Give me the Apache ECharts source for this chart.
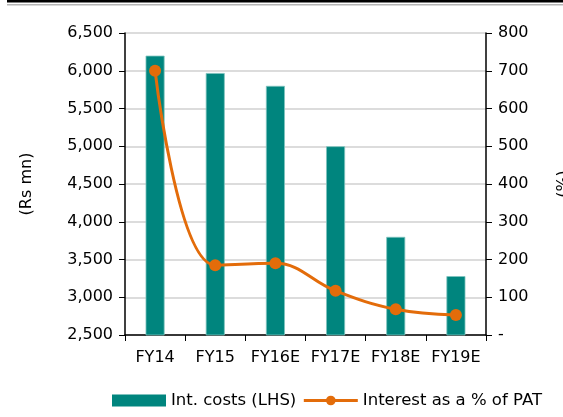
<!DOCTYPE html>
<html>
<head>
<meta charset="utf-8">
<script src="https://cdn.jsdelivr.net/npm/echarts@6/dist/echarts.min.js"></script>
<style>
    html, body { margin: 0; padding: 0; background: #fff; }
    #chart { width: 563px; height: 417px; }
</style>
</head>
<body>
<div id="chart"></div>
<script>
const years = ['FY14', 'FY15', 'FY16E', 'FY17E', 'FY18E', 'FY19E'];
const intCosts = [6200, 5970, 5800, 5000, 3800, 3280];
const interestPct = [700, 185, 190, 117, 68, 53];

const font = 'DejaVu Sans';
const chart = echarts.init(document.getElementById('chart'));
chart.setOption({
    animation: false,
    textStyle: { fontFamily: font, color: '#000' },
    graphic: [
        { type: 'rect', shape: { x: 7, y: 0, width: 556, height: 2.5 }, style: { fill: '#000' } },
        { type: 'rect', shape: { x: 7, y: 4, width: 556, height: 1.5 }, style: { fill: '#b5b5b5' } }
    ],
    grid: { left: 125, right: 77, top: 33, bottom: 82, containLabel: false, outerBoundsMode: 'none' },
    legend: {
        bottom: 3,
        left: 107,
        itemGap: 6,
        itemWidth: 54,
        itemHeight: 12,
        textStyle: { fontFamily: font, fontSize: 16.5, color: '#000' },
        data: [
            { name: 'Int. costs (LHS)', icon: 'rect', itemStyle: { borderWidth: 0 } },
            { name: 'Interest as a % of PAT', lineStyle: { width: 3 } }
        ]
    },
    xAxis: {
        type: 'category',
        data: years,
        axisLine: { lineStyle: { color: '#000', width: 1.5 } },
        axisTick: { show: true, length: 6, lineStyle: { color: '#000' } },
        axisLabel: { fontFamily: font, fontSize: 16, color: '#000', margin: 15, interval: 0 }
    },
    yAxis: [
        {
            type: 'value',
            min: 2500, max: 6500, interval: 500,
            name: '(Rs mn)',
            nameLocation: 'middle',
            nameRotate: 90,
            nameGap: 90,
            nameTextStyle: { fontFamily: font, fontSize: 16, color: '#000' },
            axisLine: { show: true, lineStyle: { color: '#000', width: 1.5 } },
            axisTick: { show: true, length: 6, lineStyle: { color: '#000' } },
            axisLabel: {
                fontFamily: font, fontSize: 16, color: '#000', margin: 12,
                formatter: v => v.toLocaleString('en-US')
            },
            splitLine: { lineStyle: { color: '#d0d0d0', width: 1.5 } }
        },
        {
            type: 'value',
            min: 0, max: 800, interval: 100,
            name: '(%)',
            nameLocation: 'middle',
            nameRotate: 90,
            nameGap: 70,
            nameTextStyle: { fontFamily: font, fontSize: 16, color: '#000' },
            axisLine: { show: true, lineStyle: { color: '#000', width: 1.5 } },
            axisTick: { show: true, length: 6, lineStyle: { color: '#000' } },
            axisLabel: {
                fontFamily: font, fontSize: 16, color: '#000', margin: 12,
                formatter: v => v === 0 ? '-' : String(v)
            },
            splitLine: { show: false }
        }
    ],
    series: [
        {
            name: 'Int. costs (LHS)',
            type: 'bar',
            yAxisIndex: 0,
            data: intCosts,
            barWidth: 19,
            itemStyle: { color: '#00857e', borderColor: '#7fc4bf', borderWidth: 0.8 }
        },
        {
            name: 'Interest as a % of PAT',
            type: 'line',
            yAxisIndex: 1,
            data: interestPct,
            smooth: 0.4,
            symbol: 'circle',
            symbolSize: 12,
            lineStyle: { color: '#e36c0a', width: 3 },
            itemStyle: { color: '#e36c0a' }
        }
    ]
});
</script>
</body>
</html>
